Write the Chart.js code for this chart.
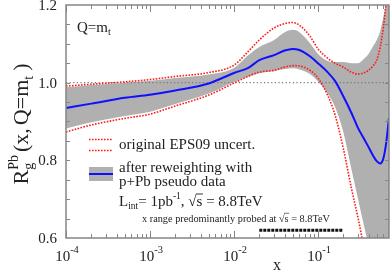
<!DOCTYPE html>
<html>
<head>
<meta charset="utf-8">
<script src="https://cdn.jsdelivr.net/npm/chart.js@4.4.0/dist/chart.umd.min.js"></script>
<style>
  html, body { margin: 0; padding: 0; background: #fff; }
  canvas { display: block; }
</style>
</head>
<body>
<canvas id="chart" width="390" height="273"></canvas>
<script>
// x grid shared by all curves
const xGrid = [1e-4, 2e-4, 5e-4, 1e-3, 2e-3, 5e-3, 0.01, 0.015, 0.02, 0.03, 0.04, 0.05, 0.06, 0.08,
               0.1, 0.13, 0.16, 0.2, 0.25, 0.3, 0.35, 0.4, 0.45, 0.5, 0.55, 0.6, 0.65, 0.7];

// after reweighting: central value and band
const reweighted   = [0.935, 0.946, 0.961, 0.969, 0.980, 0.998, 1.025, 1.039, 1.058, 1.071, 1.083, 1.087, 1.084, 1.068,
                      1.050, 1.027, 1.004, 0.965, 0.922, 0.883, 0.857, 0.834, 0.813, 0.798, 0.792, 0.805, 0.847, 0.909];
const reweightedHi = [0.988, 0.994, 1.000, 1.005, 1.012, 1.021, 1.038, 1.072, 1.092, 1.110, 1.130, 1.136, 1.130, 1.102,
                      1.074, 1.056, 1.053, 1.053, 1.050, 1.050, 1.061, 1.074, 1.093, 1.110, 1.133, 1.169, 1.210, 1.260];
const reweightedLo = [0.882, 0.898, 0.914, 0.925, 0.945, 0.972, 1.002, 1.016, 1.024, 1.030, 1.035, 1.037, 1.034, 1.022,
                      1.003, 0.972, 0.937, 0.873, 0.777, 0.700, 0.635, 0.579, 0.530, 0.483, 0.440, 0.400, 0.360, 0.320];

// original EPS09 uncertainty
const eps09Hi = [0.991, 0.996, 1.002, 1.008, 1.016, 1.026, 1.045, 1.082, 1.110, 1.141, 1.152, 1.155, 1.148, 1.120,
                 1.087, 1.063, 1.050, 1.040, 1.027, 1.022, 1.025, 1.032, 1.043, 1.058, 1.092, 1.143, 1.210, 1.290];
const eps09Lo = [0.873, 0.891, 0.908, 0.919, 0.940, 0.968, 0.999, 1.017, 1.027, 1.032, 1.040, 1.044, 1.043, 1.032,
                 1.012, 0.968, 0.916, 0.831, 0.728, 0.651, 0.579, 0.520, 0.470, 0.420, 0.380, 0.340, 0.300, 0.260];

// probed x range bar and the reference line
const probedX = [0.02, 0.2];
const probedY = [0.62, 0.62];
const unityX = [1e-4, 0.7];
const unityY = [1.0, 1.0];

// axes
const xMin = 1e-4, xMax = 0.7;
const yMin = 0.6, yMax = 1.2;
const xDecades = [1e-4, 1e-3, 1e-2, 1e-1];
const xDecadeExp = ['-4', '-3', '-2', '-1'];
const yLabels = [0.6, 0.8, 1.0, 1.2];
const yMinorStep = 0.05;

const serif = '"Liberation Serif", "DejaVu Serif", serif';
const axisGray = '#858585';

function pts(xv, yv) { return xv.map((x, i) => ({ x: x, y: yv[i] })); }

// draw a run of text pieces (sizes, raised/lowered, stacked)
function rich(ctx, x, y, segs, align) {
  const w = segs.map(s => { ctx.font = s.size + 'px ' + serif; return ctx.measureText(s.t).width; });
  let total = 0, start = 0, prevW = 0;
  const pos = [];
  segs.forEach((s, i) => {
    if (s.stack) {
      pos.push(start);
      if (w[i] > prevW) { total += w[i] - prevW; prevW = w[i]; }
    } else {
      total += s.pre || 0;
      pos.push(total);
      start = total; prevW = w[i];
      total += w[i];
    }
  });
  const x0 = align === 'center' ? x - total / 2 : (align === 'right' ? x - total : x);
  ctx.textAlign = 'left';
  ctx.textBaseline = 'alphabetic';
  segs.forEach((s, i) => {
    ctx.font = s.size + 'px ' + serif;
    ctx.fillText(s.t, x0 + pos[i], y + (s.dy || 0));
    if (s.over) {
      ctx.beginPath();
      ctx.lineWidth = s.size / 16;
      ctx.moveTo(x0 + pos[i] - 0.5, y - s.size * 0.80);
      ctx.lineTo(x0 + pos[i] + w[i] + 0.5, y - s.size * 0.80);
      ctx.stroke();
    }
  });
}

const decorations = {
  id: 'decorations',
  afterDraw(chart) {
    const ctx = chart.ctx, a = chart.chartArea;
    const xs = chart.scales.x, ys = chart.scales.y;
    ctx.save();

    // frame and ticks
    ctx.strokeStyle = axisGray;
    ctx.lineWidth = 1.5;
    ctx.strokeRect(a.left, a.top, a.right - a.left, a.bottom - a.top);
    ctx.lineWidth = 1;
    ctx.beginPath();
    for (let d = -4; d <= -1; d++) {
      for (let m = 1; m <= 9; m++) {
        const v = m * Math.pow(10, d);
        if (v > xMax * 0.999) break;
        const px = Math.round(xs.getPixelForValue(v)) + 0.5;
        const len = m === 1 ? 7 : 4;
        ctx.moveTo(px, a.bottom); ctx.lineTo(px, a.bottom - len);
        ctx.moveTo(px, a.top); ctx.lineTo(px, a.top + len);
      }
    }
    for (let v = yMin + yMinorStep; v < yMax - 1e-6; v += yMinorStep) {
      const py = Math.round(ys.getPixelForValue(v)) + 0.5;
      ctx.moveTo(a.left, py); ctx.lineTo(a.left + 4, py);
      ctx.moveTo(a.right, py); ctx.lineTo(a.right - 4, py);
    }
    ctx.stroke();

    ctx.fillStyle = '#222';
    ctx.strokeStyle = '#222';

    // y tick labels
    ctx.font = '15px ' + serif;
    ctx.textAlign = 'right';
    ctx.textBaseline = 'middle';
    yLabels.forEach(v => ctx.fillText(v.toFixed(1), a.left - 9, ys.getPixelForValue(v) + 1));

    // x tick labels 10^n
    xDecades.forEach((v, i) => {
      rich(ctx, xs.getPixelForValue(v) + 1, 261, [
        { t: '10', size: 15 },
        { t: xDecadeExp[i], size: 10.5, dy: -8 }
      ], 'center');
    });

    // axis titles
    ctx.font = '16px ' + serif;
    ctx.textAlign = 'center';
    ctx.textBaseline = 'alphabetic';
    ctx.fillText('x', 277, 270);

    ctx.save();
    ctx.translate(28, 124);
    ctx.rotate(-Math.PI / 2);
    rich(ctx, 0, 0, [
      { t: 'R', size: 22 },
      { t: 'Pb', size: 14, dy: -10 },
      { t: 'g', size: 14, dy: 5, stack: true },
      { t: '(', size: 22, pre: 3 },
      { t: 'x', size: 22 },
      { t: ',', size: 22 },
      { t: 'Q', size: 22, pre: 3 },
      { t: '=', size: 22 },
      { t: 'm', size: 22 },
      { t: 't', size: 14, dy: 5 },
      { t: ')', size: 22, pre: 5 }
    ], 'center');
    ctx.restore();

    // Q=m_t label
    rich(ctx, 77, 32, [
      { t: 'Q=m', size: 15 },
      { t: 't', size: 10, dy: 3 }
    ], 'left');

    // legend
    ctx.strokeStyle = '#ff1a1a';
    ctx.lineWidth = 1.6;
    ctx.setLineDash([1.6, 1.4]);
    ctx.beginPath();
    ctx.moveTo(89, 139.5); ctx.lineTo(113, 139.5);
    ctx.moveTo(89, 150.5); ctx.lineTo(113, 150.5);
    ctx.stroke();
    ctx.setLineDash([]);
    ctx.fillStyle = '#b0b0b0';
    ctx.fillRect(89, 167, 24, 14);
    ctx.strokeStyle = '#1010ff';
    ctx.lineWidth = 2;
    ctx.beginPath();
    ctx.moveTo(89, 174); ctx.lineTo(113, 174);
    ctx.stroke();

    ctx.fillStyle = '#222';
    ctx.strokeStyle = '#222';
    rich(ctx, 119, 148.5, [{ t: 'original EPS09 uncert.', size: 15 }], 'left');
    rich(ctx, 119, 172, [{ t: 'after reweighting with', size: 15 }], 'left');
    rich(ctx, 119, 186, [{ t: 'p+Pb pseudo data', size: 15 }], 'left');
    rich(ctx, 119, 206, [
      { t: 'L', size: 15 },
      { t: 'int', size: 9.5, dy: 3 },
      { t: '= 1pb', size: 15 },
      { t: '-1', size: 9.5, dy: -7 },
      { t: ', \u221A', size: 15 },
      { t: 's', size: 15, over: true },
      { t: ' = 8.8TeV', size: 15 }
    ], 'left');
    rich(ctx, 142, 221.5, [
      { t: 'x range predominantly probed at \u221A', size: 10.3 },
      { t: 's', size: 10.3, over: true },
      { t: ' = 8.8TeV', size: 10.3 }
    ], 'left');

    ctx.restore();
  }
};

new Chart(document.getElementById('chart'), {
  type: 'line',
  data: {
    datasets: [
      {
        label: 'after reweighting',
        data: pts(xGrid, reweighted),
        borderColor: '#1010ff',
        borderWidth: 2,
        cubicInterpolationMode: 'monotone',
        fill: false
      },
      {
        label: 'probed range',
        data: pts(probedX, probedY),
        borderColor: '#111',
        borderWidth: 3,
        borderDash: [3, 1],
        borderCapStyle: 'butt',
        fill: false
      },
      {
        label: 'EPS09 upper',
        data: pts(xGrid, eps09Hi),
        borderColor: '#ff1a1a',
        borderWidth: 1.6,
        borderDash: [1.6, 1.4],
        cubicInterpolationMode: 'monotone',
        fill: false
      },
      {
        label: 'EPS09 lower',
        data: pts(xGrid, eps09Lo),
        borderColor: '#ff1a1a',
        borderWidth: 1.6,
        borderDash: [1.6, 1.4],
        cubicInterpolationMode: 'monotone',
        fill: false
      },
      {
        label: 'unity',
        data: pts(unityX, unityY),
        borderColor: '#777',
        borderWidth: 1.2,
        borderDash: [1.2, 2.4],
        fill: false
      },
      {
        label: 'band upper',
        data: pts(xGrid, reweightedHi),
        borderColor: 'transparent',
        borderWidth: 0,
        backgroundColor: '#b0b0b0',
        cubicInterpolationMode: 'monotone',
        fill: '+1'
      },
      {
        label: 'band lower',
        data: pts(xGrid, reweightedLo),
        borderColor: 'transparent',
        borderWidth: 0,
        cubicInterpolationMode: 'monotone',
        fill: false
      }
    ]
  },
  options: {
    responsive: false,
    animation: false,
    devicePixelRatio: 1,
    events: [],
    layout: { padding: { left: 66, right: 1, top: 5, bottom: 35 } },
    elements: { point: { radius: 0 } },
    plugins: { legend: { display: false }, tooltip: { enabled: false } },
    scales: {
      x: { type: 'logarithmic', min: xMin, max: xMax, display: false },
      y: { type: 'linear', min: yMin, max: yMax, display: false }
    }
  },
  plugins: [decorations]
});
</script>
</body>
</html>
